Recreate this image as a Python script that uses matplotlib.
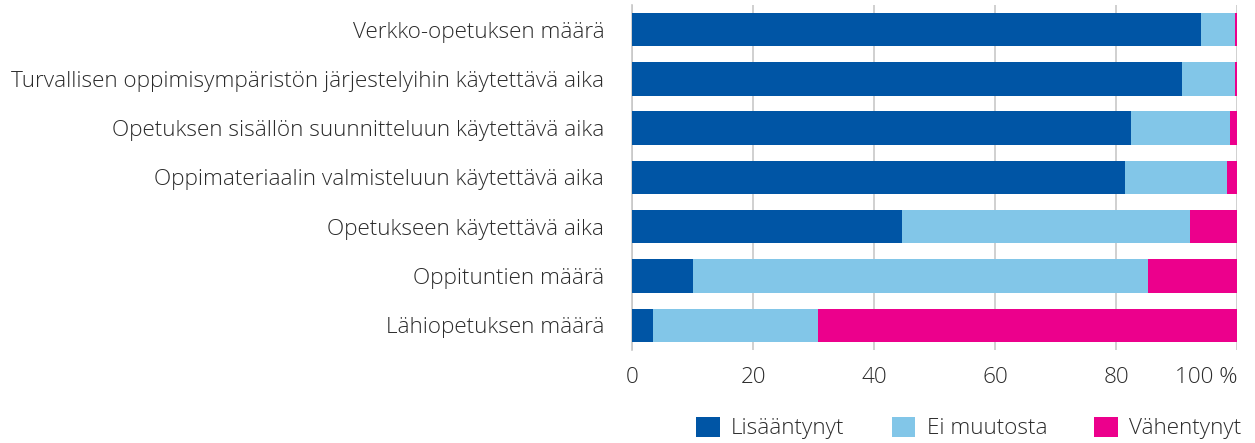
import matplotlib
matplotlib.use("Agg")
import matplotlib.pyplot as plt
import numpy as np

categories = [
    "Verkko-opetuksen määrä",
    "Turvallisen oppimisympäristön järjestelyihin käytettävä aika",
    "Opetuksen sisällön suunnitteluun käytettävä aika",
    "Oppimateriaalin valmisteluun käytettävä aika",
    "Opetukseen käytettävä aika",
    "Oppituntien määrä",
    "Lähiopetuksen määrä",
]
lisaantynyt = [94.0, 90.9, 82.5, 81.5, 44.7, 10.0, 3.5]
ei_muutosta = [5.6, 8.7, 16.3, 16.9, 47.5, 75.2, 27.3]
vahentynyt = [0.4, 0.4, 1.2, 1.6, 7.8, 14.8, 69.2]
series_names = ["Lisääntynyt", "Ei muutosta", "Vähentynyt"]
colors = ["#0055A5", "#82C6E8", "#EC008C"]
xticks = [0, 20, 40, 60, 80, 100]
xticklabels = ["0", "20", "40", "60", "80", "100 %"]

plt.rcParams['font.family'] = ['Open Sans', 'DejaVu Sans']
plt.rcParams['font.weight'] = 'light'
FS = 16.2
TXT = "#2b2b2b"

fig = plt.figure(figsize=(12.55, 4.43), dpi=100)
ax = fig.add_axes([0.5036, 0.21, 0.4821, 0.779])

y = np.arange(len(categories))
left = np.zeros(len(categories))
for vals, name, c in zip([lisaantynyt, ei_muutosta, vahentynyt], series_names, colors):
    ax.barh(y, vals, left=left, height=0.68, color=c, label=name, zorder=3)
    left = left + np.array(vals)

ax.set_ylim(len(categories) - 0.5, -0.5)
ax.set_xlim(0, 100)
ax.set_yticks(y)
ax.set_yticklabels(categories, fontsize=FS, color=TXT)
ax.set_xticks(xticks)
ax.set_xticklabels(xticklabels, fontsize=FS, color=TXT)
ax.get_xticklabels()[-1].set_horizontalalignment("right")
ax.tick_params(axis='y', length=0, pad=20)
ax.tick_params(axis='x', length=0, pad=12)
ax.grid(axis='x', color="#c8c8c8", linewidth=1.2, zorder=0)
for s in ["top", "right", "bottom"]:
    ax.spines[s].set_visible(False)
ax.spines["left"].set_color("#c8c8c8")
ax.spines["left"].set_linewidth(1.2)

handles, labels = ax.get_legend_handles_labels()
fig.legend(handles, labels, loc="center", bbox_to_anchor=(0.772, 0.034), ncol=3,
           frameon=False, fontsize=FS, handlelength=1.05, handleheight=1.0,
           columnspacing=2.1, handletextpad=0.5, labelcolor=TXT)

fig.savefig("out.png", dpi=100)
